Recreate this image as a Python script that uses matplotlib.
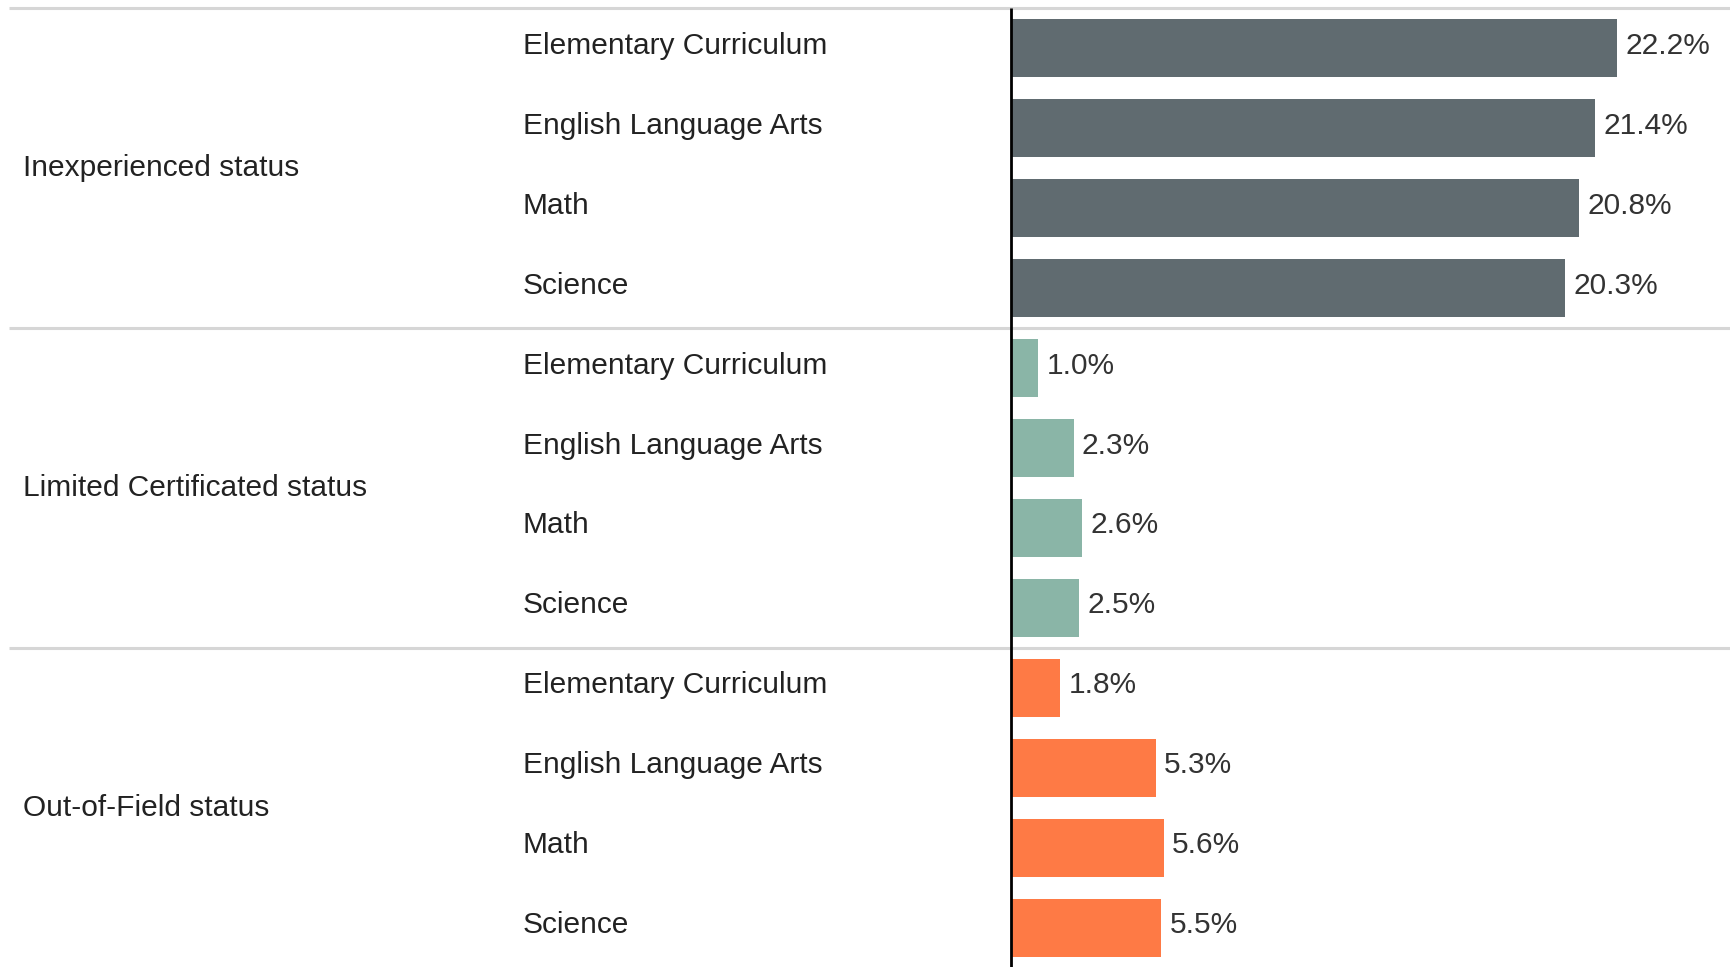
import matplotlib
matplotlib.use("Agg")
import matplotlib.pyplot as plt
from matplotlib.transforms import blended_transform_factory

groups = ["Inexperienced status", "Limited Certificated status", "Out-of-Field status"]
subjects = ["Elementary Curriculum", "English Language Arts", "Math", "Science"]
inexperienced = [22.2, 21.4, 20.8, 20.3]
limited = [1.0, 2.3, 2.6, 2.5]
out_of_field = [1.8, 5.3, 5.6, 5.5]
group_colors = ["#606b70", "#8ab5a7", "#fe7a45"]

plt.rcParams["font.family"] = ["Liberation Sans", "DejaVu Sans"]

fig = plt.figure(figsize=(17.31, 9.67), dpi=100)
ax = fig.add_axes([0, 0, 1, 1])

# x in percent, zero at the vertical axis line (~1011 px from left)
px_per_pct = 27.3
ax.set_xlim(-1011 / px_per_pct, 720 / px_per_pct)
ax.set_ylim(11.49, -0.6)
ax.axis("off")

trans = blended_transform_factory(ax.transAxes, ax.transData)
text_color = "#222222"

row = 0
for g, (name, vals) in enumerate(zip(groups, [inexperienced, limited, out_of_field])):
    ys = [row + i for i in range(len(vals))]
    ax.barh(ys, vals, height=0.72, color=group_colors[g], zorder=2)
    for y, v, s in zip(ys, vals, subjects):
        ax.text(0.302, y - 0.03, s, transform=trans, va="center", ha="left",
                fontsize=21.5, color=text_color)
        ax.text(v + 0.3, y - 0.03, f"{v:.1f}%", va="center", ha="left",
                fontsize=21.5, color="#333333")
    ax.text(0.0133, row + 1.5, name, transform=trans, va="center", ha="left",
            fontsize=21.5, color=text_color)
    # separator line above each group
    ax.plot([0.005, 1.0], [row - 0.5, row - 0.5], transform=trans,
            color="#d6d6d6", linewidth=2.2, zorder=1, solid_capstyle="butt")
    row += len(vals)

ax.vlines(0, -0.5, 11.6, color="black", linewidth=2.0, zorder=3)

fig.savefig("out.png", dpi=100)
